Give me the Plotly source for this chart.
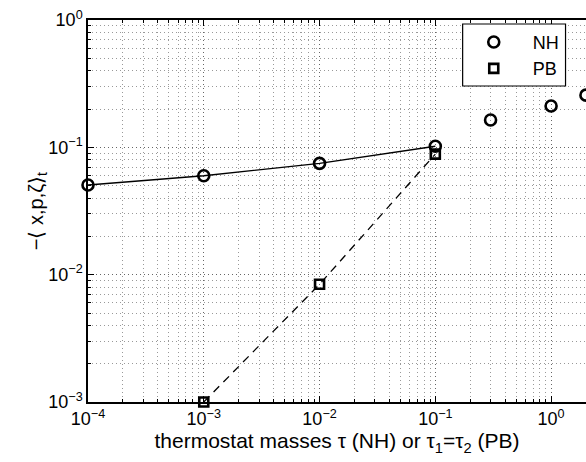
import numpy as np
import plotly.graph_objects as go

# data
nh_tau = [1e-4, 1e-3, 1e-2, 1e-1, 0.3, 1.0, 2.0]
nh_val = [0.0506, 0.0598, 0.0748, 0.102, 0.164, 0.211, 0.257]
nh_line_n = 4  # solid line through first points
pb_tau = [1e-3, 1e-2, 1e-1]
pb_val = [0.001, 0.0084, 0.0885]

x_major = [1e-4, 1e-3, 1e-2, 1e-1, 1e0]
x_major_text = ["10<sup>−4</sup>", "10<sup>−3</sup>", "10<sup>−2</sup>", "10<sup>−1</sup>", "10<sup>0</sup>"]
y_major = [1e-3, 1e-2, 1e-1, 1e0]
y_major_text = ["10<sup>−3</sup>", "10<sup>−2</sup>", "10<sup>−1</sup>", "10<sup>0</sup>"]

def minors(lo, hi):
    out = []
    for e in range(lo, hi):
        for m in range(2, 10):
            out.append(m * 10.0 ** e)
    return out

FONT = "Liberation Sans, Arial, sans-serif"
FS = 18

fig = go.Figure()
fig.add_trace(go.Scatter(x=nh_tau[:nh_line_n], y=nh_val[:nh_line_n], mode="lines",
                         line=dict(color="black", width=1.3), showlegend=False, hoverinfo="skip"))
fig.add_trace(go.Scatter(x=pb_tau, y=pb_val, mode="lines",
                         line=dict(color="black", width=1.3, dash="8px,6px"), showlegend=False, hoverinfo="skip"))
fig.add_trace(go.Scatter(x=nh_tau, y=nh_val, mode="markers", name="\u00a0NH", cliponaxis=False,
                         marker=dict(symbol="circle-open", size=11, color="black", line=dict(width=2.6, color="black"))))
fig.add_trace(go.Scatter(x=pb_tau, y=pb_val, mode="markers", name="\u00a0PB", cliponaxis=False,
                         marker=dict(symbol="square-open", size=9, color="black", line=dict(width=2.6, color="black"))))

grid = dict(showgrid=True, gridcolor="#666", gridwidth=1, griddash="1px,3px")
mgrid = dict(ticks="inside", ticklen=3, tickcolor="black", showgrid=True,
             gridcolor="#999", gridwidth=1, griddash="1px,3px")

fig.update_xaxes(type="log", range=[-4, 0.3015], tickmode="array", tickvals=x_major, ticktext=x_major_text,
                 ticks="inside", ticklen=6, tickcolor="black", showline=True, linecolor="black", linewidth=1.5,
                 mirror="ticks", zeroline=False, automargin=False, **grid,
                 minor=dict(tickmode="array", tickvals=minors(-4, 1), **mgrid),
                 title=dict(text="thermostat masses τ (NH) or τ<sub>1</sub>=τ<sub>2</sub> (PB)",
                            font=dict(size=21, color="black"), standoff=0),
                 tickfont=dict(size=FS, color="black"))
fig.update_yaxes(type="log", range=[-3, 0], tickmode="array", tickvals=y_major, ticktext=y_major_text,
                 ticks="inside", ticklen=6, tickcolor="black", showline=True, linecolor="black", linewidth=1.5,
                 mirror=False, zeroline=False, automargin=False, **grid,
                 minor=dict(tickmode="array", tickvals=minors(-3, 0), **mgrid),
                 tickfont=dict(size=FS, color="black"))

fig.add_annotation(text="−⟨ x,p,ζ⟩<sub>t</sub>", xref="paper", yref="paper",
                   x=-0.102, y=0.5, xanchor="center", yanchor="middle", textangle=-90,
                   showarrow=False, font=dict(size=20, color="black"))

# legend frame
fig.add_shape(type="rect", xref="paper", yref="paper", x0=0.7523, x1=0.9589, y0=0.8272, y1=0.9895,
              line=dict(color="black", width=1.2), fillcolor="white", layer="above")

fig.update_layout(width=586, height=462, margin=dict(l=88, r=0, t=20, b=60),
                  plot_bgcolor="white", paper_bgcolor="white",
                  font=dict(family=FONT, size=FS, color="black"),
                  legend=dict(x=0.7465, y=0.99, xanchor="left", yanchor="top", bgcolor="rgba(0,0,0,0)",
                              borderwidth=0, font=dict(size=FS),
                              itemwidth=58, tracegroupgap=4))
fig.write_html("out.html", config={"displayModeBar": False},
               post_script="document.body.style.margin='0';document.body.style.overflow='hidden';")
